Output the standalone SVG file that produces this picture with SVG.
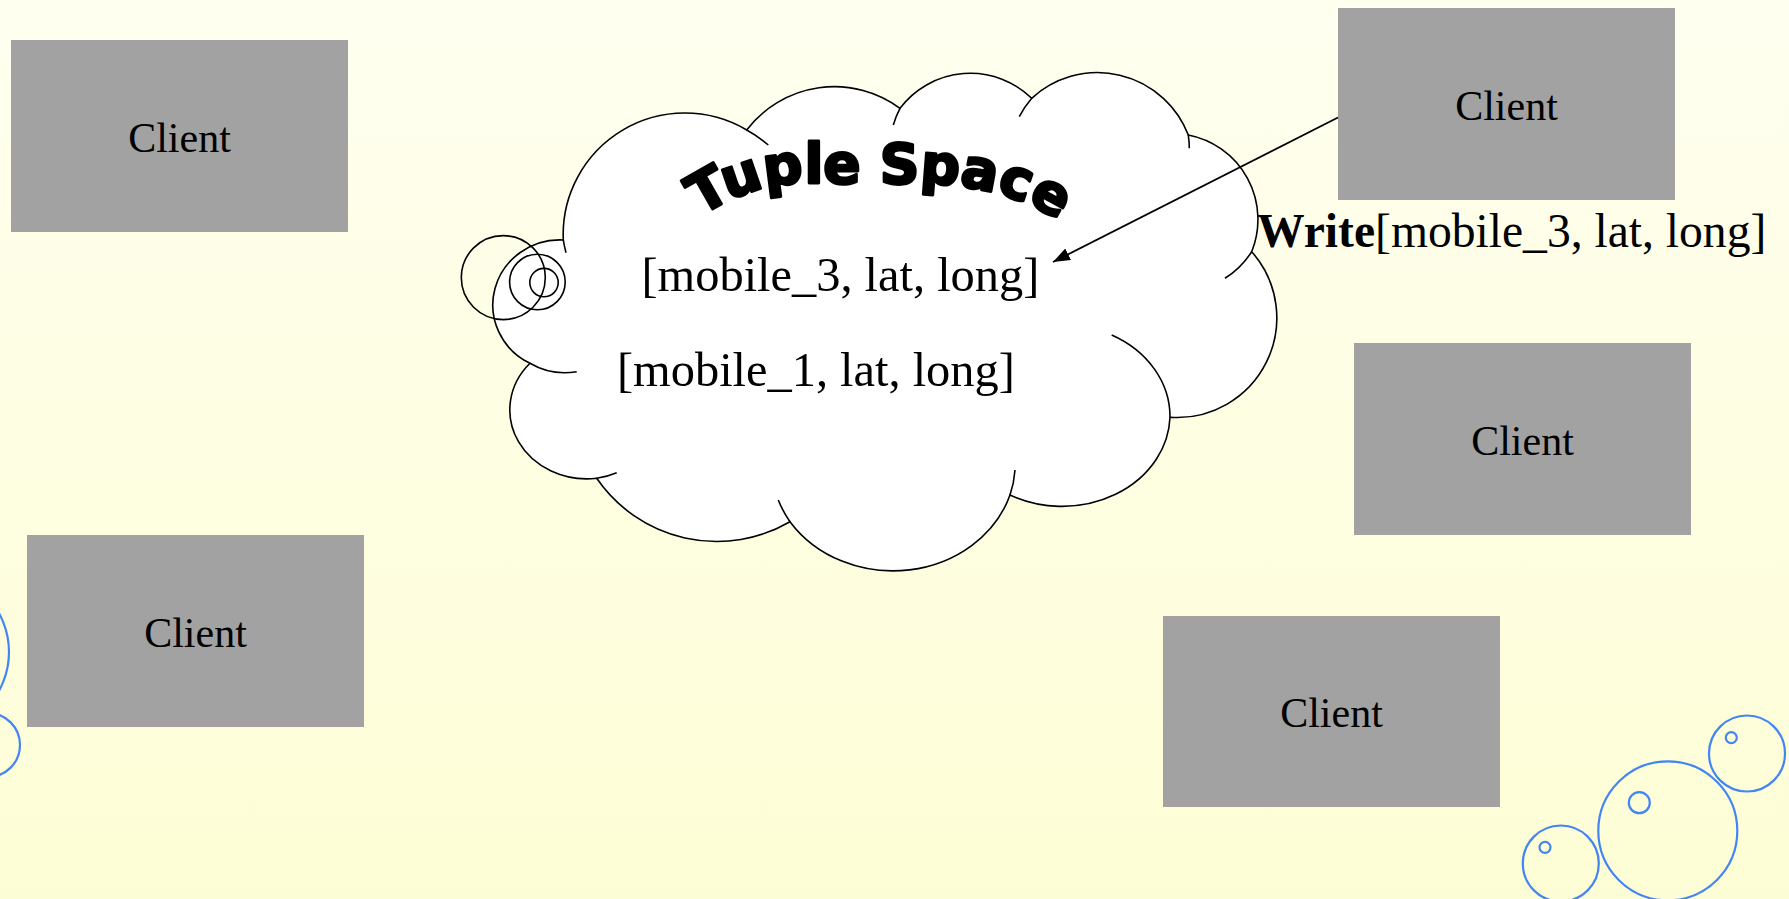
<svg xmlns="http://www.w3.org/2000/svg" width="1789" height="899" viewBox="0 0 1789 899">
  <defs>
    <linearGradient id="bg" x1="0" y1="0" x2="0" y2="1">
      <stop offset="0" stop-color="#fffff0"/>
      <stop offset="1" stop-color="#fdfdd5"/>
    </linearGradient>
    <marker id="arrowhead" markerUnits="userSpaceOnUse" markerWidth="18" markerHeight="13" refX="17" refY="6.5" orient="auto">
      <path d="M0,0 L17,6.5 L0,13 Z" fill="#000"/>
    </marker>
    <!-- baseline curve for the arched heading -->
    <path id="title-arc" d="M683,228.7 L700,217 Q745,186 800,183 L920,183 Q1010,186 1060,222 L1085,240"/>
  </defs>
  <style>
    .client rect { fill: #a2a2a2; }
    .client text { font-family: "Liberation Serif", "Times New Roman", serif; font-size: 42px; fill: #000; text-anchor: middle; }
    .serif { font-family: "Liberation Serif", "Times New Roman", serif; font-size: 48.4px; fill: #000; }
    .outline { fill: none; stroke: #000; stroke-width: 1.6; }
    .bubble { fill: none; stroke: #4485f4; stroke-width: 2.2; }
    .title { font-family: "DejaVu Sans", sans-serif; font-weight: bold; font-size: 55px; fill: #000; stroke: #000; stroke-width: 2.8; stroke-linejoin: round; }
  </style>

  <!-- page background -->
  <rect x="0" y="0" width="1789" height="899" fill="url(#bg)"/>

  <!-- decorative bubbles -->
  <g id="bubbles">
    <circle class="bubble" cx="-71" cy="652" r="80"/>
    <circle class="bubble" cx="-12" cy="745" r="32"/>
    <circle class="bubble" cx="1747" cy="753.5" r="38"/>
    <circle class="bubble" cx="1731.3" cy="737.7" r="5.5"/>
    <circle class="bubble" cx="1667.8" cy="830.8" r="69.5"/>
    <circle class="bubble" cx="1639.3" cy="802.7" r="10.5"/>
    <circle class="bubble" cx="1560.8" cy="863.5" r="38"/>
    <circle class="bubble" cx="1545" cy="847.3" r="5.5"/>
  </g>

  <!-- clients -->
  <g id="client-1" class="client">
    <rect x="11" y="40" width="337" height="192"/>
    <text x="179.5" y="152">Client</text>
  </g>
  <g id="client-2" class="client">
    <rect x="1338" y="8" width="337" height="192"/>
    <text x="1506.5" y="120">Client</text>
  </g>
  <g id="client-3" class="client">
    <rect x="1354" y="343" width="337" height="192"/>
    <text x="1522.5" y="455">Client</text>
  </g>
  <g id="client-4" class="client">
    <rect x="27" y="535" width="337" height="192"/>
    <text x="195.5" y="647">Client</text>
  </g>
  <g id="client-5" class="client">
    <rect x="1163" y="616" width="337" height="191"/>
    <text x="1331.5" y="727">Client</text>
  </g>

  <!-- tuple space cloud -->
  <g id="tuple-space">
    <path class="outline" style="fill:#fff" d="M563.3,240
      A121.6,121.6 0 0 1 746.7,130
      A110.4,110.4 0 0 1 900,108.3
      A88,88 0 0 1 1031.7,98.3
      A97.2,97.2 0 0 1 1188.3,135
      A86.1,86.1 0 0 1 1251.7,251.7
      A99.7,99.7 0 0 1 1170,417.3
      A108,92 0 0 1 1010,495
      A123,109 0 0 1 790,521.7
      A145.7,145.7 0 0 1 596.7,478.3
      A77,69 0 0 1 530,363.3
      A67.1,65.1 0 0 1 563.3,240 Z"/>
    <!-- inner lobe seams -->
    <path class="outline" d="M746.7,130 A121.6,121.6 0 0 1 768.3,145
      M893.3,125 A88,88 0 0 1 900,108.3
      M1019.3,116.7 A97.2,97.2 0 0 1 1031.7,98.3
      M1188.3,135 A97.2,97.2 0 0 1 1189.3,148.3
      M1251.7,251.7 A86.1,86.1 0 0 1 1225,278.3
      M1111.7,335 A108,92 0 0 1 1170,417.3
      M1015,470 A123,109 0 0 1 1010,495
      M790,521.7 A123,109 0 0 1 778.3,500
      M616.7,472.7 A77,69 0 0 1 596.7,478.3
      M576.7,371.7 A67.1,65.1 0 0 1 530,363.3
      M566,252.7 A121.6,121.6 0 0 1 563.3,240"/>
    <!-- callout tail rings -->
    <circle class="outline" cx="503.3" cy="277.6" r="42"/>
    <circle class="outline" cx="537.4" cy="282" r="27.8"/>
    <circle class="outline" cx="544" cy="282.6" r="14.2"/>
    <text class="title"><textPath href="#title-arc" startOffset="22">Tuple Space</textPath></text>
    <text class="serif" x="641.5" y="291">[mobile_3, lat, long]</text>
    <text class="serif" x="617" y="386">[mobile_1, lat, long]</text>
  </g>

  <!-- connectors -->
  <g id="connectors">
    <line x1="1338" y1="117.5" x2="1053" y2="262" stroke="#000" stroke-width="1.8" marker-end="url(#arrowhead)"/>
    <text class="serif" x="1257" y="247" style="font-size:47.6px"><tspan font-weight="bold">Write</tspan>[mobile_3, lat, long]</text>
  </g>
</svg>
